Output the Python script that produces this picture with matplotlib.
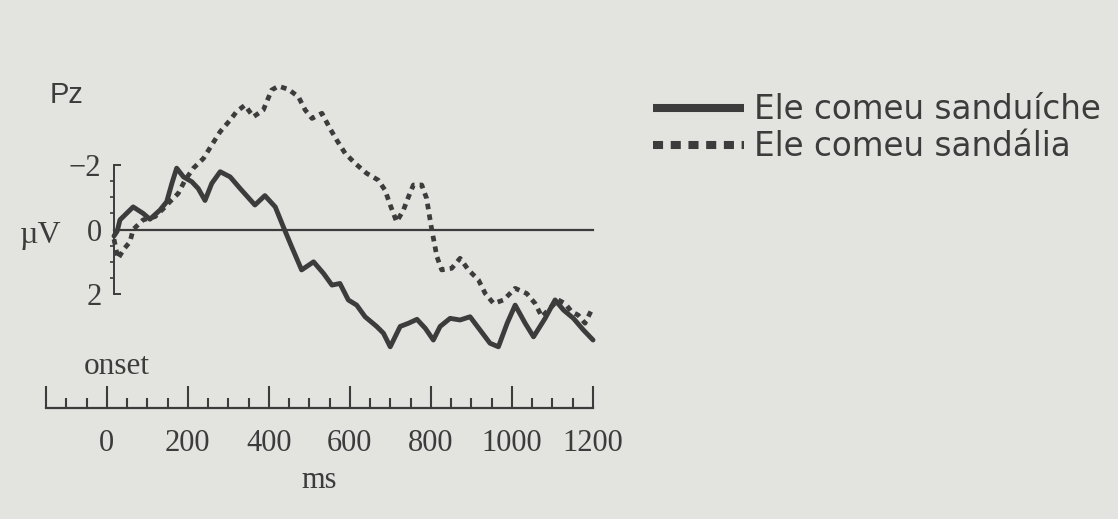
import numpy as np
import matplotlib
matplotlib.use("Agg")
from matplotlib import pyplot as plt
from matplotlib.lines import Line2D

# ERP at Pz (uV, negative plotted up), time in ms
t_sanduiche = [0, 8, 15, 48, 73, 90, 115, 132, 145, 157, 174, 195, 211, 228, 245,
               266, 291, 316, 353, 378, 404, 424, 445, 470, 500, 525, 546, 566, 587, 608,
               629, 658, 675, 692, 717, 738, 759, 780, 800, 817, 842, 867, 892, 917, 942,
               963, 985, 1005, 1030, 1051, 1080, 1105, 1126, 1151, 1176, 1200]
v_sanduiche = [0.2, 0.05, -0.3, -0.7, -0.5, -0.32, -0.6, -0.86, -1.43, -1.9, -1.63, -1.48, -1.27, -0.9, -1.43,
               -1.79, -1.63, -1.27, -0.76, -1.05, -0.7, -0.09, 0.53, 1.25, 1.0, 1.36, 1.72, 1.67, 2.18, 2.34,
               2.7, 3.0, 3.21, 3.63, 3.0, 2.9, 2.78, 3.06, 3.42, 3.0, 2.75, 2.8, 2.7, 3.11, 3.52,
               3.63, 2.9, 2.34, 2.9, 3.32, 2.75, 2.18, 2.49, 2.75, 3.11, 3.42]

t_sandalia = [0, 10, 25, 40, 48, 73, 103, 128, 140, 161, 178, 199, 224, 245, 266,
              291, 307, 328, 349, 374, 395, 412, 437, 462, 479, 496, 521, 541, 558, 579,
              604, 633, 662, 679, 692, 708, 725, 738, 750, 771, 783, 796, 809, 821, 846,
              867, 888, 913, 930, 951, 976, 1005, 1034, 1055, 1072, 1088, 1113, 1130, 1147, 1163,
              1180, 1188, 1200]
v_sandalia = [0.3, 0.9, 0.6, 0.38, 0.0, -0.3, -0.4, -0.7, -0.86, -1.12, -1.53, -1.9, -2.2, -2.62, -3.03,
              -3.39, -3.65, -3.85, -3.49, -3.7, -4.32, -4.44, -4.34, -4.11, -3.7, -3.44, -3.6, -3.13, -2.77, -2.36,
              -2.05, -1.74, -1.53, -1.22, -0.76, -0.24, -0.6, -1.02, -1.38, -1.38, -0.97, 0.0, 0.84, 1.25, 1.2,
              0.89, 1.25, 1.56, 1.98, 2.29, 2.18, 1.82, 1.98, 2.29, 2.7, 2.49, 2.18, 2.29, 2.55, 2.65,
              2.9, 2.7, 2.4]

legenda = ["Ele comeu sanduíche", "Ele comeu sandália"]
uv_ticks = [-2, 0, 2]
uv_labels = ["\u22122", "0", "2"]
ms_ticks = [-150, 0, 200, 400, 600, 800, 1000, 1200]
ms_labels = ["", "0", "200", "400", "600", "800", "1000", "1200"]

W, H = 1118, 519
cor = "#3c3c3c"
fundo = "#e3e3e0"
serif = "Liberation Serif"

fig = plt.figure(figsize=(W / 100, H / 100), dpi=100, facecolor=fundo)

# grafico principale
ax = fig.add_axes([114 / W, 1 - 365.2 / H, 479 / W, 290.7 / H])
ax.set_xlim(0, 1200)
ax.set_ylim(4.2, -4.8)
ax.patch.set_visible(False)
for s in ["top", "right", "bottom"]:
    ax.spines[s].set_visible(False)
ax.spines["left"].set_bounds(-2, 2)
ax.spines["left"].set_linewidth(1.4)
ax.spines["left"].set_color(cor)
ax.set_xticks([])
ax.set_yticks(uv_ticks, uv_labels)
ax.set_yticks(np.arange(-2, 2.01, 0.5), minor=True)
ax.tick_params(axis="y", which="major", direction="in", length=5, width=1.4, pad=9,
               colors=cor, labelsize=22)
ax.tick_params(axis="y", which="minor", direction="out", length=3, width=1.2, colors=cor)
for lab in ax.get_yticklabels():
    lab.set_family(serif)

ax.axhline(0, color=cor, lw=1.6, clip_on=False)
ax.plot(t_sanduiche, v_sanduiche, color=cor, lw=3.5, solid_joinstyle="round",
        solid_capstyle="round", clip_on=False)
ax.plot(t_sandalia, v_sandalia, color=cor, lw=3.4, linestyle=(0, (1.2, 1.1)),
        dash_capstyle="butt", clip_on=False)

fig.text(50 / W, 1 - 95 / H, "Pz", ha="left", va="center", fontsize=21,
         family="Liberation Sans", color=cor)
fig.text(41 / W, 1 - 236 / H, "\u00b5V", ha="center", va="center", fontsize=23,
         family=serif, color=cor)

# righello dei tempi
rax = fig.add_axes([46 / W, 1 - 408 / H, 547 / W, 0.06])
rax.set_xlim(-150, 1200)
rax.patch.set_visible(False)
for s in ["top", "right", "left"]:
    rax.spines[s].set_visible(False)
rax.spines["bottom"].set_linewidth(1.6)
rax.spines["bottom"].set_color(cor)
rax.set_yticks([])
rax.set_xticks(ms_ticks, ms_labels)
rax.set_xticks(np.arange(-100, 1200, 50), minor=True)
rax.tick_params(axis="x", which="major", direction="in", length=15.5, width=1.5, pad=15,
                colors=cor, labelsize=22)
rax.tick_params(axis="x", which="minor", direction="in", length=7, width=1.5, colors=cor)
for lab in rax.get_xticklabels():
    lab.set_family(serif)
rax.set_xlabel("ms", fontsize=22, family=serif, color=cor, labelpad=6)

fig.text(117 / W, 1 - 367 / H, "onset", ha="center", va="center", fontsize=22.5,
         family=serif, color=cor)

# legenda
h1 = Line2D([], [], color=cor, lw=5.8, solid_capstyle="butt")
h2 = Line2D([], [], color=cor, lw=5.8, linestyle=(0, (1.25, 0.95)), dash_capstyle="butt")
leg = fig.legend([h1, h2], legenda, loc="center left", bbox_to_anchor=(653 / W, 1 - 128 / H),
                 frameon=False, fontsize=23.5, handlelength=2.8, handletextpad=0.3,
                 labelspacing=0.12, borderpad=0, borderaxespad=0)
for txt in leg.get_texts():
    txt.set_color(cor)
    txt.set_family("DejaVu Sans")

fig.savefig("out.png", dpi=100, facecolor=fundo)
